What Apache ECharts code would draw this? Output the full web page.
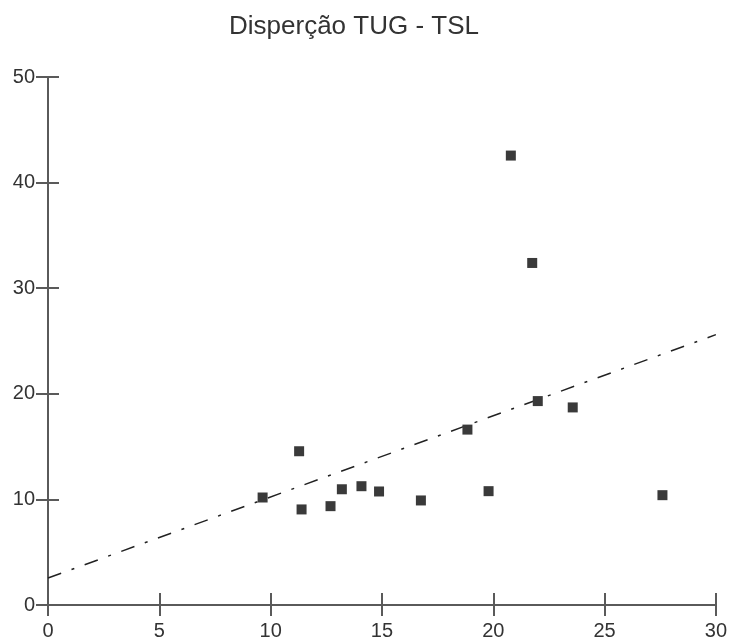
<!DOCTYPE html>
<html>
<head>
<meta charset="utf-8">
<title>Disperção TUG - TSL</title>
<script src="https://cdn.jsdelivr.net/npm/echarts@6/dist/echarts.min.js"></script>
<style>
  html, body { margin: 0; padding: 0; background: #fff; }
  #chart { width: 730px; height: 641px; }
</style>
</head>
<body>
<div id="chart"></div>
<script>
// valores
var tug = [9.64, 11.28, 11.39, 12.69, 13.20, 14.08, 14.87, 16.75, 18.84, 19.79, 20.79, 21.75, 22.00, 23.57, 27.60];
var tsl = [10.18, 14.56, 9.05, 9.36, 10.96, 11.25, 10.75, 9.90, 16.61, 10.78, 42.56, 32.39, 19.31, 18.71, 10.40];

// linha de tendência (extremos)
var trendX = [0, 30];
var trendY = [2.55, 25.6];

var xTicks = [0, 5, 10, 15, 20, 25, 30];
var yTicks = [0, 10, 20, 30, 40, 50];

var chart = echarts.init(document.getElementById('chart'));

var points = tug.map(function (x, i) { return [x, tsl[i]]; });
var trend = trendX.map(function (x, i) { return [x, trendY[i]]; });

var textFont = 'Liberation Sans, Arial, sans-serif';
var axisColor = '#5a5a5a';

function xAxisBase(inside) {
  return {
    type: 'value',
    min: xTicks[0],
    max: xTicks[xTicks.length - 1],
    interval: 5,
    position: 'bottom',
    splitLine: { show: false },
    axisLine: { show: !inside, lineStyle: { color: axisColor, width: 2 } },
    axisTick: { show: true, inside: inside, length: inside ? 12 : 11, lineStyle: { color: axisColor, width: 2 } },
    axisLabel: {
      show: !inside,
      margin: 16,
      color: '#333',
      fontSize: 20,
      fontFamily: textFont
    }
  };
}

function yAxisBase(inside) {
  return {
    type: 'value',
    min: yTicks[0],
    max: yTicks[yTicks.length - 1],
    interval: 10,
    position: 'left',
    offset: 0,
    splitLine: { show: false },
    axisLine: { show: !inside, lineStyle: { color: axisColor, width: 2 } },
    axisTick: { show: true, inside: inside, length: inside ? 11 : 12, lineStyle: { color: axisColor, width: 2 } },
    axisLabel: {
      show: !inside,
      margin: 13,
      color: '#333',
      fontSize: 20,
      fontFamily: textFont
    }
  };
}

chart.setOption({
  backgroundColor: '#fff',
  animation: false,
  title: {
    text: 'Disperção TUG - TSL',
    left: 224,
    top: 9,
    textStyle: {
      color: '#333',
      fontWeight: 'normal',
      fontSize: 26,
      fontFamily: textFont
    }
  },
  grid: {
    left: 48,
    right: 12,
    top: 77,
    bottom: 35
  },
  xAxis: [xAxisBase(false), xAxisBase(true)],
  yAxis: [yAxisBase(false), yAxisBase(true)],
  series: [
    {
      name: 'Tendência',
      type: 'line',
      data: trend,
      symbol: 'none',
      silent: true,
      lineStyle: {
        color: '#222',
        width: 1.5,
        type: [14, 11, 3, 11]
      },
      z: 1
    },
    {
      name: 'TUG - TSL',
      type: 'scatter',
      data: points,
      symbol: 'rect',
      symbolSize: 10,
      itemStyle: { color: '#3a3a3a', opacity: 1 },
      z: 2
    }
  ]
});
</script>
</body>
</html>
